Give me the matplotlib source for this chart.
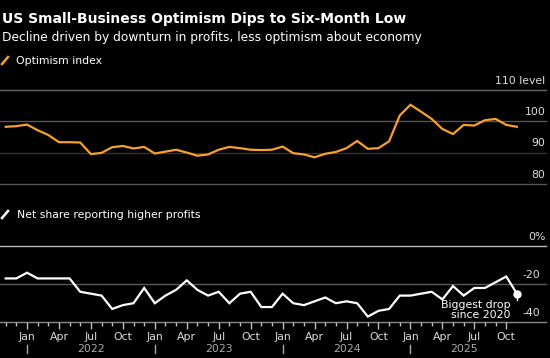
import matplotlib.pyplot as plt
import matplotlib.transforms as mtransforms
from matplotlib.lines import Line2D

# monthly points, first point sits on the Nov 2021 tick
optimism = [98.2, 98.4, 98.9, 97.1, 95.6, 93.3, 93.3, 93.2, 89.5, 89.9,
            91.7, 92.1, 91.3, 91.8, 89.7, 90.3, 90.9, 90.0, 89.0, 89.4,
            90.9, 91.8, 91.4, 90.9, 90.8, 90.9, 91.9, 89.8, 89.4, 88.5,
            89.6, 90.2, 91.4, 93.7, 91.2, 91.4, 93.6, 101.8, 105.2, 103.0,
            100.7, 97.5, 95.9, 98.8, 98.6, 100.3, 100.7, 98.8, 98.2]
profits = [-17, -17, -14, -17, -17, -17, -17, -24, -25, -26,
           -33, -31, -30, -22, -30, -26, -23, -18, -23, -26,
           -24, -30, -25, -24, -32, -32, -25, -30, -31, -29,
           -27, -30, -29, -30, -37, -34, -33, -26, -26, -25,
           -24, -28, -21, -26, -22, -22, -19, -16, -25]
months = ['Nov', 'Dec', 'Jan', 'Feb', 'Mar', 'Apr', 'May', 'Jun', 'Jul', 'Aug', 'Sep', 'Oct'] * 4
years = ['2022', '2023', '2024', '2025']

opt_levels = [110, 100, 90, 80]
opt_labels = ['110 level', '100', '90', '80']
prof_levels = [0, -20, -40]
prof_labels = ['0%', '-20', '-40']

ORANGE = '#f7a02b'
plt.rcParams['font.family'] = 'DejaVu Sans'

W, H = 550, 358
fig = plt.figure(figsize=(W / 100, H / 100), dpi=100, facecolor='black')

x = list(range(len(optimism)))
xlim = (-0.535, 50.73)

fig.text(2 / W, 1 - 19 / H, 'US Small-Business Optimism Dips to Six-Month Low',
         color='white', fontsize=10, fontweight='bold', va='center', ha='left')
fig.text(2 / W, 1 - 37 / H, 'Decline driven by downturn in profits, less optimism about economy',
         color='white', fontsize=8.8, va='center', ha='left')

# legend-like keys
fig.add_artist(Line2D([2 / W, 8 / W], [1 - 64 / H, 1 - 57 / H], color=ORANGE, lw=1.8))
fig.text(16 / W, 1 - 60.5 / H, 'Optimism index', color='white', fontsize=7.8, va='center')
fig.add_artist(Line2D([2 / W, 8 / W], [1 - 218 / H, 1 - 211 / H], color='white', lw=1.8))
fig.text(17 / W, 1 - 215 / H, 'Net share reporting higher profits', color='white',
         fontsize=7.8, va='center')

# top panel
ax1 = fig.add_axes([0, 1 - 184 / H, 546 / W, (184 - 89.7) / H])
ax1.set_facecolor('black')
ax1.set_xlim(*xlim)
ax1.set_ylim(80, 110)
t1 = mtransforms.blended_transform_factory(ax1.transAxes, ax1.transData)
grid_cols = ['#666666', '#555555', '#333333', '#555555']
for lvl, lab, gc in zip(opt_levels, opt_labels, grid_cols):
    ax1.axhline(lvl, color=gc, lw=1, clip_on=False, zorder=1)
    ax1.text(545.5 / 546, lvl + 2.9, lab, transform=t1,
             color='#dddddd', fontsize=7.8, ha='right', va='center')
ax1.plot(x, optimism, color=ORANGE, lw=1.6, zorder=3, solid_joinstyle='miter')
ax1.axis('off')

# bottom panel
ax2 = fig.add_axes([0, 1 - 322.3 / H, 546 / W, (322.3 - 246) / H])
ax2.set_facecolor('black')
ax2.set_xlim(*xlim)
ax2.set_ylim(-40, 0)
for lvl, gc in zip(prof_levels, ['#bbbbbb', '#5a5a5a', '#888888']):
    ax2.axhline(lvl, color=gc, lw=1, clip_on=False, zorder=1)
bt = mtransforms.blended_transform_factory(ax2.transAxes, ax2.transData)
for lvl, lab, xr in zip(prof_levels, prof_labels, [545.5, 540, 540]):
    ax2.text(xr / 546, lvl + 4.8, lab, transform=bt, color='#dddddd', fontsize=7.8,
             ha='right', va='center')
ax2.plot(x, profits, color='white', lw=1.6, zorder=3, solid_joinstyle='miter')
ax2.plot([x[-1], x[-1]], [profits[-1], profits[-1] - 3.5], color='white', lw=1, zorder=3)
ax2.plot(x[-1], profits[-1], 'o', color='white', ms=5, zorder=4)
ax2.text(x[-1] - 0.6, -28.3, 'Biggest drop\nsince 2020', color='white', fontsize=7.8,
         ha='right', va='top', linespacing=1.05, zorder=5)

for sp in ax2.spines.values():
    sp.set_visible(False)
ax2.set_yticks([])
tick_idx = list(range(48))
ax2.set_xticks(tick_idx, minor=True)
ax2.tick_params(axis='x', which='minor', length=3, color='#bbbbbb', width=1)
quarter = [i for i in tick_idx if months[i] in ('Jan', 'Apr', 'Jul', 'Oct')]
ax2.set_xticks(quarter)
ax2.set_xticklabels([months[i] for i in quarter], color='#dddddd', fontsize=7.8)
ax2.tick_params(axis='x', which='major', length=5, color='#bbbbbb', width=1, pad=2)

xt = mtransforms.blended_transform_factory(ax2.transData, ax2.transAxes)
jans = [i for i in tick_idx if months[i] == 'Jan']
for i in jans:
    ax2.plot([i, i], [-0.30, -0.40], color='#aaaaaa', lw=1, transform=xt, clip_on=False)
year_pos = [(jans[k] + jans[k + 1]) / 2 for k in range(len(jans) - 1)] + [(jans[-1] + x[-1]) / 2]
for yp, yl in zip(year_pos, years):
    ax2.text(yp, -0.35, yl, transform=xt, color='#aaaaaa', fontsize=7.8, ha='center', va='center')

fig.savefig('out.png', dpi=100, facecolor='black')
